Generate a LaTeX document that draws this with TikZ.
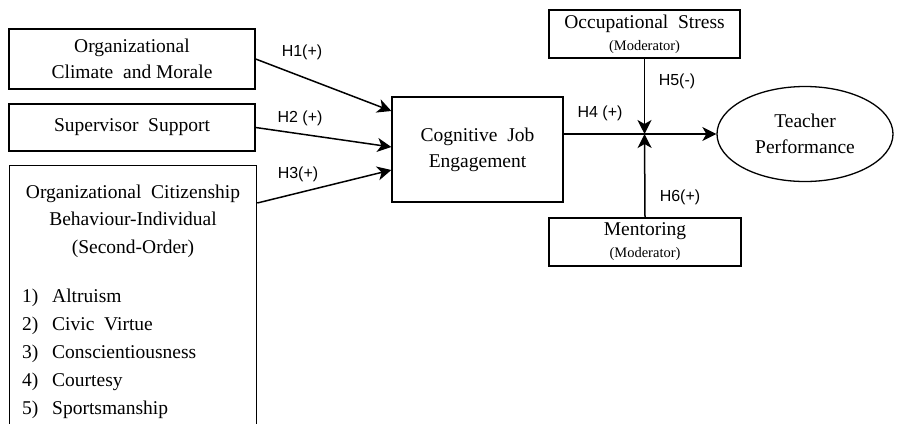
\documentclass[tikz,border=0pt]{standalone}
\usepackage{fontspec}
\setmainfont{Liberation Serif}
\newfontfamily\hypfont{Liberation Sans}
\usetikzlibrary{shapes.geometric,arrows.meta}

\begin{document}
\begin{tikzpicture}[x=1pt,y=-1pt,
  box/.style={draw,line width=1.3pt,align=center,font=\fontsize{19.5}{26}\selectfont},
  modbox/.style={box,font=\fontsize{19.5}{22}\selectfont},
  hyp/.style={font=\hypfont\fontsize{16}{18}\selectfont},
  arr/.style={line width=1.5pt,-{Stealth[length=14pt,width=14pt,inset=4pt]}}]

\useasboundingbox (0,0) rectangle (912,423);

% predictors
\node [box,minimum width=246,minimum height=60] (climate) at (132,59) {Organizational\\Climate\ \ and Morale};
\node [box,minimum width=246,minimum height=47] (support) at (132,127.5) {Supervisor\ \ Support};
\node [box,minimum width=247,minimum height=262,anchor=north west] (ocb) at (9,165) {};
\node [draw=none,align=center,font=\fontsize{19.5}{27.5}\selectfont] (ocbtitle) at (133,221) {Organizational\ \ Citizenship\\Behaviour-Individual\\(Second-Order)};
\node [draw=none,anchor=west,inner sep=0pt,align=left,font=\fontsize{19.5}{28}\selectfont] (ocblist) at (22,354)
  {\makebox[30pt][l]{1)}Altruism\\\makebox[30pt][l]{2)}Civic\ \ Virtue\\\makebox[30pt][l]{3)}Conscientiousness\\\makebox[30pt][l]{4)}Courtesy\\\makebox[30pt][l]{5)}Sportsmanship};

% mediator, moderators and outcome
\node [box,minimum width=171,minimum height=105] (cog) at (477.5,149.5) {Cognitive\ \ Job\\Engagement};
\node [modbox,minimum width=191,minimum height=48] (stress) at (644.5,34) {Occupational\ \ Stress\\{\fontsize{14.5}{16}\selectfont (Moderator)}};
\node [modbox,minimum width=192,minimum height=48] (mentor) at (645,242) {Mentoring\\{\fontsize{14.5}{16}\selectfont (Moderator)}};
\node [box,ellipse,minimum width=176,minimum height=95] (perf) at (805,134) {Teacher\\Performance};
\coordinate (join) at (644.5,134);

% paths
\draw [arr] (climate.east) -- ([yshift=38.5pt]cog.west);
\draw [arr] (support.east) -- ([yshift=2.5pt]cog.west);
\draw [arr] ([yshift=-38pt]ocb.north east) -- ([yshift=-20.5pt]cog.west);
\draw [arr] (cog.east |- join) -- (perf.west);
\draw [arr] (stress.south) -- (join);
\draw [arr] (mentor.north) -- (join);

\node [hyp] (h1) at (302,52) {H1(+)};
\node [hyp] (h2) at (300,118) {H2 (+)};
\node [hyp] (h3) at (298,174) {H3(+)};
\node [hyp] (h4) at (600,113) {H4 (+)};
\node [hyp] (h5) at (677,81) {H5(-)};
\node [hyp] (h6) at (680,197) {H6(+)};

\end{tikzpicture}
\end{document}
